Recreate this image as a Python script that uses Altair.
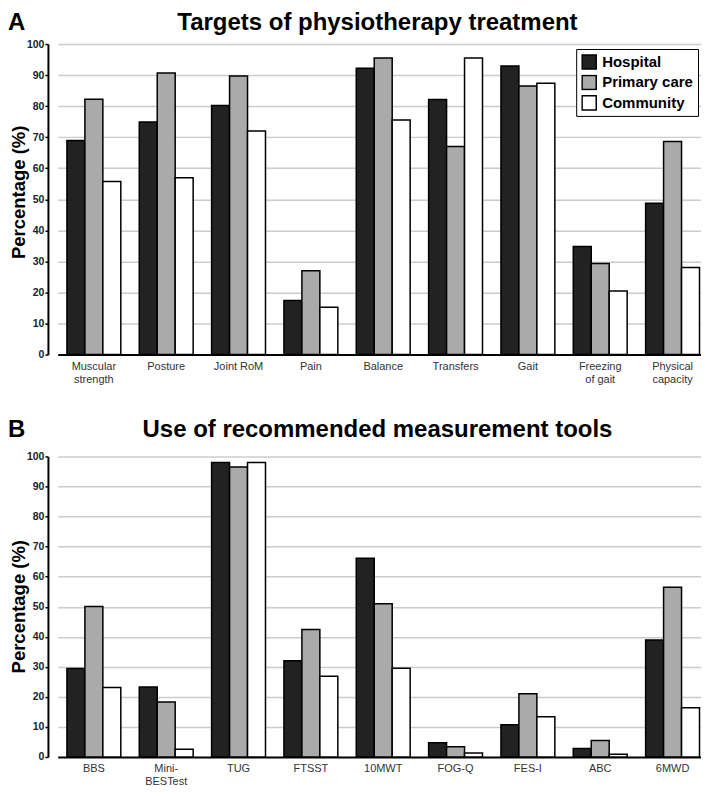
import json
import altair as alt
import pandas as pd

groups = ["Hospital", "Primary care", "Community"]
colors = ["#222222", "#aaaaaa", "#ffffff"]

a_cats = ["Muscular strength", "Posture", "Joint RoM", "Pain", "Balance",
          "Transfers", "Gait", "Freezing of gait", "Physical capacity"]
a_lines = [["Muscular", "strength"], ["Posture"], ["Joint RoM"], ["Pain"], ["Balance"],
           ["Transfers"], ["Gait"], ["Freezing", "of gait"], ["Physical", "capacity"]]
a_hospital = [68.9, 74.9, 80.2, 17.4, 92.2, 82.1, 92.9, 34.8, 48.7]
a_primary = [82.2, 90.7, 89.7, 27.0, 95.5, 67.0, 86.5, 29.3, 68.6]
a_community = [55.7, 56.9, 72.0, 15.2, 75.5, 95.5, 87.4, 20.5, 28.0]

b_cats = ["BBS", "Mini-BESTest", "TUG", "FTSST", "10MWT", "FOG-Q", "FES-I", "ABC", "6MWD"]
b_lines = [["BBS"], ["Mini-", "BESTest"], ["TUG"], ["FTSST"], ["10MWT"], ["FOG-Q"],
           ["FES-I"], ["ABC"], ["6MWD"]]
b_hospital = [29.4, 23.3, 98.0, 32.0, 66.1, 4.7, 10.7, 2.8, 38.9]
b_primary = [50.1, 18.3, 96.5, 42.4, 51.0, 3.4, 21.0, 5.5, 56.5]
b_community = [23.1, 2.6, 98.0, 26.9, 29.5, 1.3, 13.4, 0.9, 16.4]

y_ticks = list(range(0, 101, 10))
y_title = "Percentage (%)"
FONT = "Liberation Sans"
W = 652
X0 = 48  # page x of the y axis (layout only)


def panel(cats, lines, hosp, prim, comm, title, letter, height, title_dy, ytitle_dy,
          show_legend):
    rows = []
    for series, vals in zip(groups, [hosp, prim, comm]):
        for c, v in zip(cats, vals):
            rows.append({"cat": c, "group": series, "value": v})
    df = pd.DataFrame(rows)
    label_map = json.dumps(dict(zip(cats, lines)))
    legend = (alt.Legend(orient="none", legendX=529, legendY=5, title=None,
                         strokeColor="black", fillColor="white", padding=5,
                         symbolType="square", symbolSize=200, symbolStrokeWidth=1.5,
                         symbolStrokeColor="black", labelFontSize=15,
                         labelFontWeight="bold", labelColor="black", labelFont=FONT,
                         rowPadding=4.5, clipHeight=16, labelOffset=5)
              if show_legend else None)
    r0 = 94 - X0 - 36.22
    bars = alt.Chart(df).mark_bar(stroke="black", strokeWidth=1.5).encode(
        x=alt.X("cat:N", sort=cats,
                scale=alt.Scale(range=[r0, r0 + 651.96], paddingInner=0.255,
                                paddingOuter=0.1275),
                axis=alt.Axis(title=None, labelAngle=0, ticks=False, domain=False,
                              labelExpr=f"{label_map}[datum.label]",
                              labelFontSize=11, labelColor="#333333", labelFont=FONT,
                              labelPadding=6, labelLineHeight=12.5)),
        xOffset=alt.XOffset("group:N", sort=groups,
                            scale=alt.Scale(paddingInner=0, paddingOuter=0)),
        y=alt.Y("value:Q", scale=alt.Scale(domain=[0, 100], nice=False),
                axis=alt.Axis(values=y_ticks, title=None, labelFontSize=10.5,
                              labelFontWeight="bold",
                              labelFont=FONT, labelColor="#222222", labelPadding=1,
                              labelOverlap=False,
                              tickSize=3, tickColor="black", tickWidth=1.5,
                              domainColor="black", domainWidth=2,
                              gridColor={"condition": {"test": "datum.value === 0",
                                                       "value": "black"},
                                         "value": "#cccccc"},
                              gridWidth={"condition": {"test": "datum.value === 0",
                                                       "value": 2},
                                         "value": 1.5})),
        color=alt.Color("group:N", sort=groups,
                        scale=alt.Scale(domain=groups, range=colors), legend=legend),
    )
    ttl = alt.Chart(pd.DataFrame({"t": [title]})).mark_text(
        text=title, font=FONT, fontSize=24, fontWeight="bold", align="center",
        baseline="alphabetic", color="black").encode(
        x=alt.value(330), y=alt.value(title_dy))
    lab = alt.Chart(pd.DataFrame({"t": [letter]})).mark_text(
        text=letter, font=FONT, fontSize=24, fontWeight="bold", align="left",
        baseline="alphabetic", color="black").encode(
        x=alt.value(8 - X0), y=alt.value(title_dy))
    ytl = alt.Chart(pd.DataFrame({"t": [y_title]})).mark_text(
        text=y_title, font=FONT, fontSize=18.5, fontWeight="bold", align="center",
        baseline="alphabetic", angle=270, color="black").encode(
        x=alt.value(25 - X0), y=alt.value(height / 2 + ytitle_dy))
    return alt.layer(bars, ttl, lab, ytl).properties(width=W, height=height)


chart_a = panel(a_cats, a_lines, a_hospital, a_primary, a_community,
                "Targets of physiotherapy treatment", "A", 311, -14, -7, True)
chart_b = panel(b_cats, b_lines, b_hospital, b_primary, b_community,
                "Use of recommended measurement tools", "B", 301, -19, 0, False)

chart = alt.vconcat(chart_a, chart_b, spacing=34).resolve_scale(
    color="independent").properties(
    padding={"left": 0, "right": 0, "top": 2.5, "bottom": 0},
    autosize=alt.AutoSizeParams(type="pad")).configure(
    background="white").configure_view(stroke=None)

chart.save("out.html", embed_options={"renderer": "svg", "actions": False})
